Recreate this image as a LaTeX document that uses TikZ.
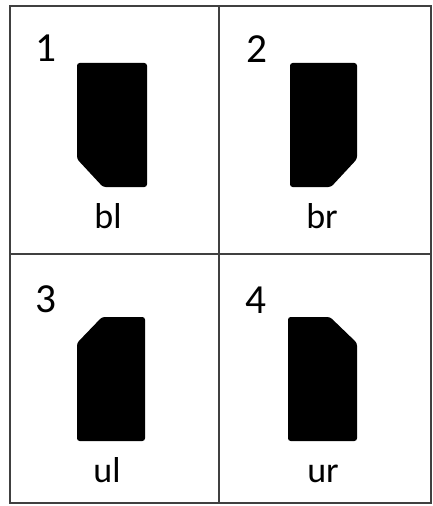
\documentclass[tikz,border=0pt]{standalone}
\usepackage{fontspec}
\setmainfont{Carlito}
\usetikzlibrary{positioning}

\begin{document}
\begin{tikzpicture}[
            x=0.75pt, y=-0.75pt,
            grid/.style={draw=black!75, line width=2.2pt},
            chip/.style={fill=black, rounded corners=2pt},
            num/.style={anchor=base, inner sep=0pt, font=\fontsize{31}{31}\selectfont},
            tag/.style={anchor=base, inner sep=0pt, font=\fontsize{27}{27}\selectfont}
        ]
            \useasboundingbox (0,0) rectangle (432,506);
            % frame and dividers
            \draw[grid] (10,6) rectangle (431,503);
            \draw[grid] (219,6) -- (219,503);
            \draw[grid] (10,254) -- (431,254);

            % the four chips
            \fill[chip] (77,63) -- (147,63) -- (147,187) -- (103,187) -- (77,159) -- cycle;
            \fill[chip] (290,63) -- (357,63) -- (357,159) -- (331,187) -- (290,187) -- cycle;
            \fill[chip] (102,317) -- (145,317) -- (145,441) -- (77,441) -- (77,343) -- cycle;
            \fill[chip] (288,317) -- (330,317) -- (357,343) -- (357,441) -- (288,441) -- cycle;

            \node[num] (n1) at (46,62) {1};
            \node[num] (n2) at (257,63) {2};
            \node[num] (n3) at (46,312) {3};
            \node[num] (n4) at (256,313) {4};

            \node[tag] (bl) at (108,228) {bl};
            \node[tag] (br) at (322,228) {br};
            \node[tag] (ul) at (107,482) {ul};
            \node[tag] (ur) at (323,482) {ur};
        \end{tikzpicture}
\end{document}
